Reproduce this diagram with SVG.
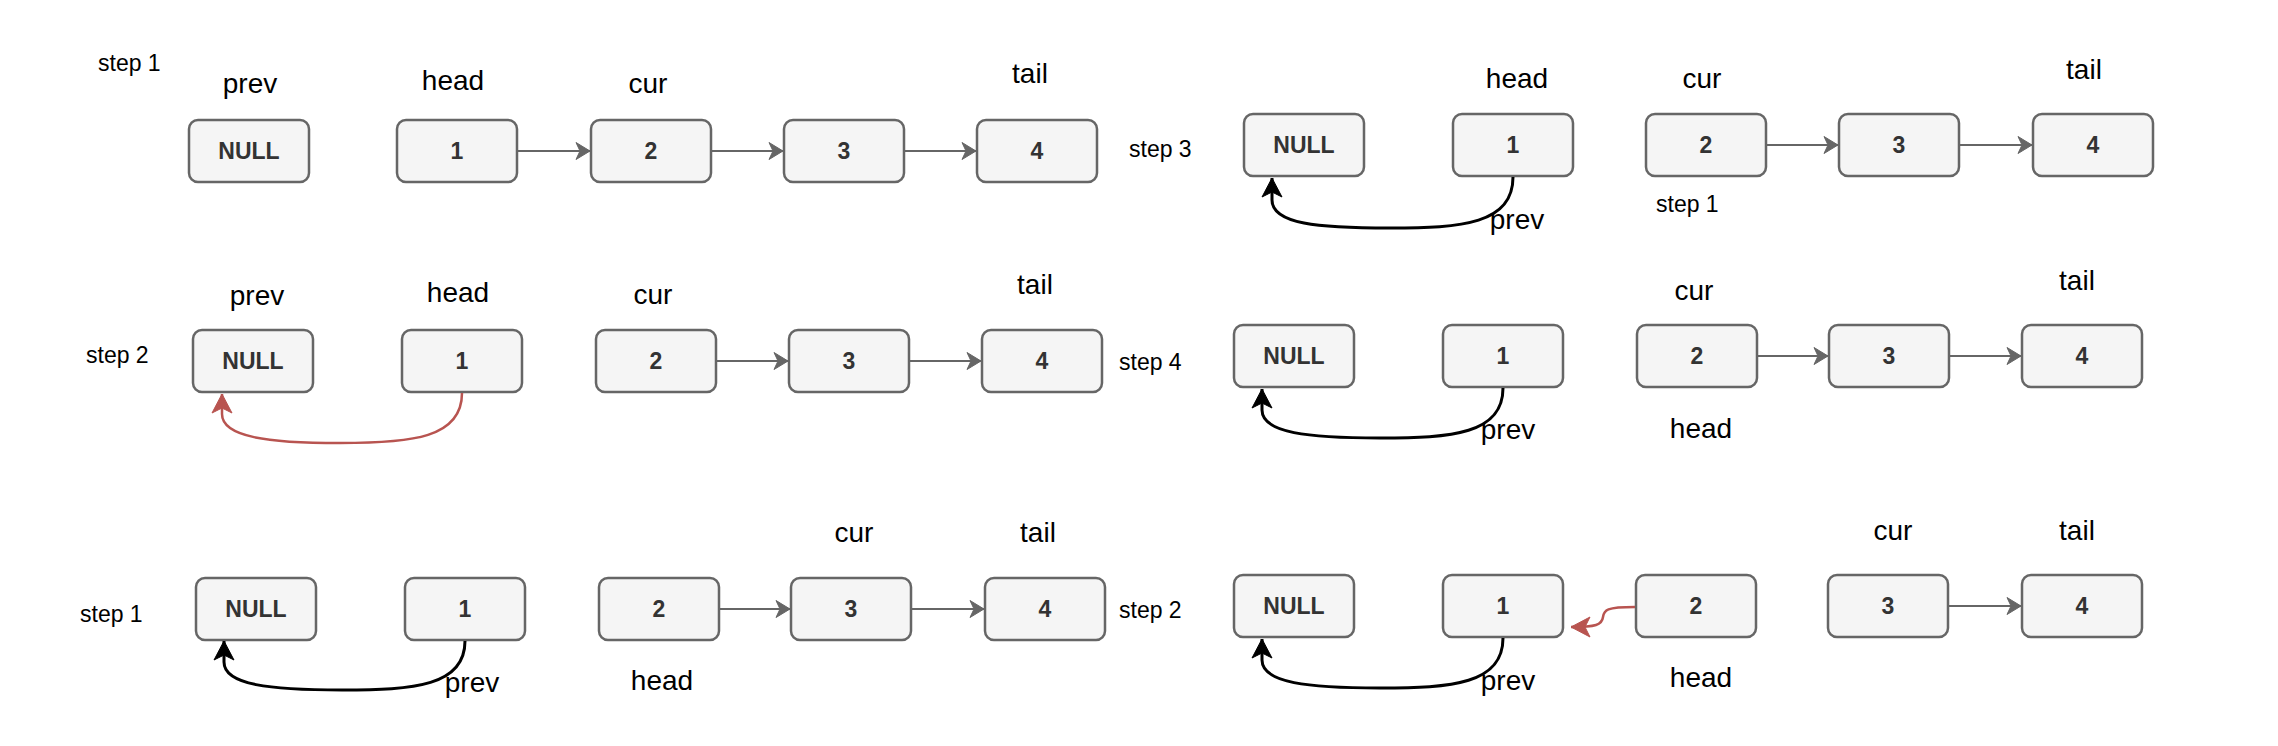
<svg xmlns="http://www.w3.org/2000/svg" width="2278" height="746" viewBox="0 0 2278 746">
<style>
.box{fill:#f5f5f5;stroke:#666666;stroke-width:2.5}
.bt{font-family:"Liberation Sans",Arial,sans-serif;font-size:23px;font-weight:bold;fill:#333333;text-anchor:middle}
.lb{font-family:"Liberation Sans",Arial,sans-serif;font-size:28px;fill:#000000;text-anchor:middle}
.st{font-family:"Liberation Sans",Arial,sans-serif;font-size:23px;fill:#000000}
.g{fill:none;stroke:#666666;stroke-width:2;marker-end:url(#ag)}
.k{fill:none;stroke:#000000;stroke-width:3;marker-end:url(#ak)}
.r{fill:none;stroke:#b85450;stroke-width:2.5;marker-end:url(#ar)}
</style>
<defs>
<marker id="ag" markerUnits="userSpaceOnUse" markerWidth="16" markerHeight="18" refX="14" refY="8.5" orient="auto" overflow="visible"><path d="M0,0 L14,8.5 L0,17 L4,8.5 Z" fill="#666666" stroke="#666666" stroke-width="1"/></marker>
<marker id="ak" markerUnits="userSpaceOnUse" markerWidth="20" markerHeight="20" refX="19" refY="10" orient="auto" overflow="visible"><path d="M0,0 L19,10 L0,20 L5,10 Z" fill="#000000" stroke="#000000" stroke-width="1"/></marker>
<marker id="ar" markerUnits="userSpaceOnUse" markerWidth="20" markerHeight="20" refX="19" refY="10" orient="auto" overflow="visible"><path d="M0,0 L19,10 L0,20 L5,10 Z" fill="#b85450" stroke="#b85450" stroke-width="1"/></marker>
</defs>
<rect width="2278" height="746" fill="#ffffff"/>

<!-- Panel A -->
<g id="panelA-labels">
<text class="st" x="98" y="71">step 1</text>
<text class="lb" x="250" y="93">prev</text>
<text class="lb" x="453" y="90">head</text>
<text class="lb" x="648" y="93">cur</text>
<text class="lb" x="1030" y="83">tail</text>
</g>
<g id="a-null"><rect class="box" x="189" y="120" width="120" height="62" rx="9"/><text class="bt" x="249" y="159">NULL</text></g>
<g id="a-n1"><rect class="box" x="397" y="120" width="120" height="62" rx="9"/><text class="bt" x="457" y="159">1</text></g>
<g id="a-n2"><rect class="box" x="591" y="120" width="120" height="62" rx="9"/><text class="bt" x="651" y="159">2</text></g>
<g id="a-n3"><rect class="box" x="784" y="120" width="120" height="62" rx="9"/><text class="bt" x="844" y="159">3</text></g>
<g id="a-n4"><rect class="box" x="977" y="120" width="120" height="62" rx="9"/><text class="bt" x="1037" y="159">4</text></g>

<!-- Panel B -->
<g id="panelB-labels">
<text class="st" x="1129" y="157">step 3</text>
<text class="lb" x="1517" y="88">head</text>
<text class="lb" x="1702" y="88">cur</text>
<text class="lb" x="2084" y="79">tail</text>
<text class="st" x="1656" y="212">step 1</text>
<text class="lb" x="1517" y="229">prev</text>
</g>
<g id="b-null"><rect class="box" x="1244" y="114" width="120" height="62" rx="9"/><text class="bt" x="1304" y="153">NULL</text></g>
<g id="b-n1"><rect class="box" x="1453" y="114" width="120" height="62" rx="9"/><text class="bt" x="1513" y="153">1</text></g>
<g id="b-n2"><rect class="box" x="1646" y="114" width="120" height="62" rx="9"/><text class="bt" x="1706" y="153">2</text></g>
<g id="b-n3"><rect class="box" x="1839" y="114" width="120" height="62" rx="9"/><text class="bt" x="1899" y="153">3</text></g>
<g id="b-n4"><rect class="box" x="2033" y="114" width="120" height="62" rx="9"/><text class="bt" x="2093" y="153">4</text></g>

<!-- Panel C -->
<g id="panelC-labels">
<text class="st" x="86" y="363">step 2</text>
<text class="lb" x="257" y="305">prev</text>
<text class="lb" x="458" y="302">head</text>
<text class="lb" x="653" y="304">cur</text>
<text class="lb" x="1035" y="294">tail</text>
</g>
<g id="c-null"><rect class="box" x="193" y="330" width="120" height="62" rx="9"/><text class="bt" x="253" y="369">NULL</text></g>
<g id="c-n1"><rect class="box" x="402" y="330" width="120" height="62" rx="9"/><text class="bt" x="462" y="369">1</text></g>
<g id="c-n2"><rect class="box" x="596" y="330" width="120" height="62" rx="9"/><text class="bt" x="656" y="369">2</text></g>
<g id="c-n3"><rect class="box" x="789" y="330" width="120" height="62" rx="9"/><text class="bt" x="849" y="369">3</text></g>
<g id="c-n4"><rect class="box" x="982" y="330" width="120" height="62" rx="9"/><text class="bt" x="1042" y="369">4</text></g>

<!-- Panel D -->
<g id="panelD-labels">
<text class="st" x="1119" y="370">step 4</text>
<text class="lb" x="1694" y="300">cur</text>
<text class="lb" x="2077" y="290">tail</text>
<text class="lb" x="1701" y="438">head</text>
<text class="lb" x="1508" y="439">prev</text>
</g>
<g id="d-null"><rect class="box" x="1234" y="325" width="120" height="62" rx="9"/><text class="bt" x="1294" y="364">NULL</text></g>
<g id="d-n1"><rect class="box" x="1443" y="325" width="120" height="62" rx="9"/><text class="bt" x="1503" y="364">1</text></g>
<g id="d-n2"><rect class="box" x="1637" y="325" width="120" height="62" rx="9"/><text class="bt" x="1697" y="364">2</text></g>
<g id="d-n3"><rect class="box" x="1829" y="325" width="120" height="62" rx="9"/><text class="bt" x="1889" y="364">3</text></g>
<g id="d-n4"><rect class="box" x="2022" y="325" width="120" height="62" rx="9"/><text class="bt" x="2082" y="364">4</text></g>

<!-- Panel E -->
<g id="panelE-labels">
<text class="st" x="80" y="622">step 1</text>
<text class="lb" x="854" y="542">cur</text>
<text class="lb" x="1038" y="542">tail</text>
<text class="lb" x="662" y="690">head</text>
<text class="lb" x="472" y="692">prev</text>
</g>
<g id="e-null"><rect class="box" x="196" y="578" width="120" height="62" rx="9"/><text class="bt" x="256" y="617">NULL</text></g>
<g id="e-n1"><rect class="box" x="405" y="578" width="120" height="62" rx="9"/><text class="bt" x="465" y="617">1</text></g>
<g id="e-n2"><rect class="box" x="599" y="578" width="120" height="62" rx="9"/><text class="bt" x="659" y="617">2</text></g>
<g id="e-n3"><rect class="box" x="791" y="578" width="120" height="62" rx="9"/><text class="bt" x="851" y="617">3</text></g>
<g id="e-n4"><rect class="box" x="985" y="578" width="120" height="62" rx="9"/><text class="bt" x="1045" y="617">4</text></g>

<!-- Panel F -->
<g id="panelF-labels">
<text class="st" x="1119" y="618">step 2</text>
<text class="lb" x="1893" y="540">cur</text>
<text class="lb" x="2077" y="540">tail</text>
<text class="lb" x="1701" y="687">head</text>
<text class="lb" x="1508" y="690">prev</text>
</g>
<g id="f-null"><rect class="box" x="1234" y="575" width="120" height="62" rx="9"/><text class="bt" x="1294" y="614">NULL</text></g>
<g id="f-n1"><rect class="box" x="1443" y="575" width="120" height="62" rx="9"/><text class="bt" x="1503" y="614">1</text></g>
<g id="f-n2"><rect class="box" x="1636" y="575" width="120" height="62" rx="9"/><text class="bt" x="1696" y="614">2</text></g>
<g id="f-n3"><rect class="box" x="1828" y="575" width="120" height="62" rx="9"/><text class="bt" x="1888" y="614">3</text></g>
<g id="f-n4"><rect class="box" x="2022" y="575" width="120" height="62" rx="9"/><text class="bt" x="2082" y="614">4</text></g>

<g id="connectors">
<!-- A -->
<path class="g" d="M518,151 L590,151"/>
<path class="g" d="M712,151 L783,151"/>
<path class="g" d="M905,151 L976,151"/>
<!-- B -->
<path class="g" d="M1767,145 L1838,145"/>
<path class="g" d="M1960,145 L2032,145"/>
<path class="k" d="M1513,177 C1513,224 1462,228 1390,228 C1318,228 1272,224 1272,200 L1272,178"/>
<!-- C -->
<path class="g" d="M717,361 L788,361"/>
<path class="g" d="M910,361 L981,361"/>
<path class="r" d="M462,393 C462,438 412,443 340,443 C268,443 222,437 222,414 L222,394"/>
<!-- D -->
<path class="g" d="M1758,356 L1828,356"/>
<path class="g" d="M1950,356 L2021,356"/>
<path class="k" d="M1503,388 C1503,434 1452,438 1380,438 C1308,438 1262,433 1262,410 L1262,389"/>
<!-- E -->
<path class="g" d="M720,609 L790,609"/>
<path class="g" d="M912,609 L984,609"/>
<path class="k" d="M465,641 C465,686 414,690 342,690 C270,690 224,685 224,662 L224,641"/>
<!-- F -->
<path class="g" d="M1949,606 L2021,606"/>
<path class="k" d="M1503,638 C1503,684 1452,688 1380,688 C1308,688 1262,683 1262,660 L1262,639"/>
<path class="r" d="M1635,607 C1606,607 1604,610 1603,617 C1602,625 1596,627 1571,627"/>
</g>
</svg>
